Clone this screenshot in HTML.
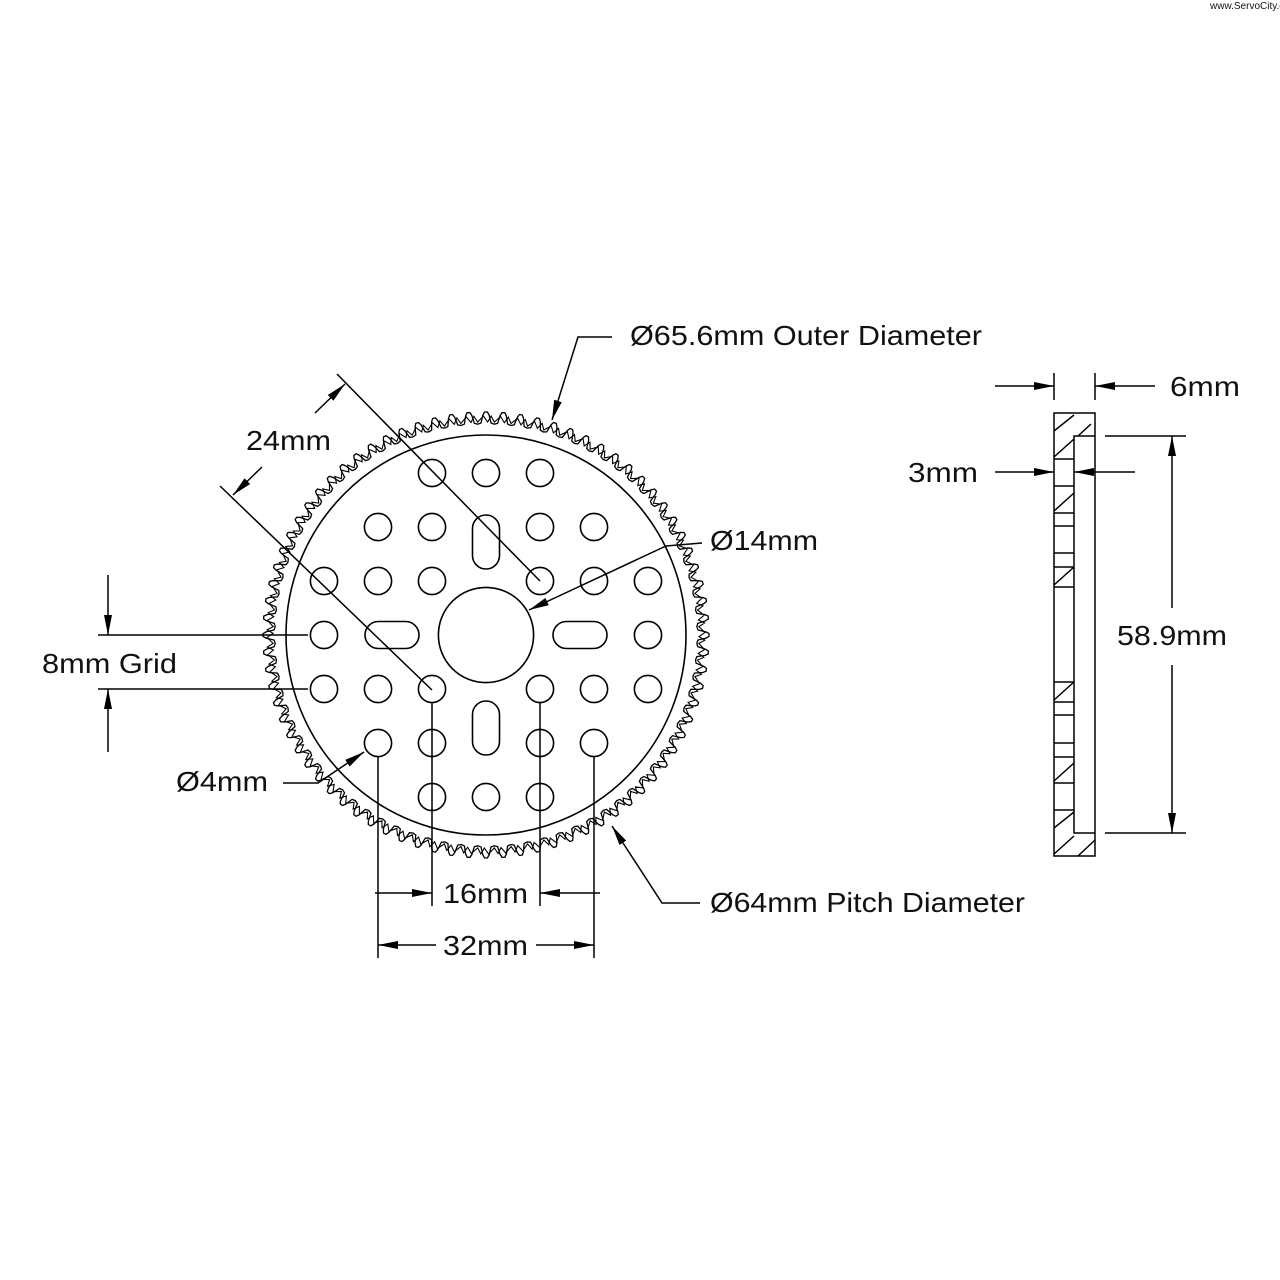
<!DOCTYPE html>
<html><head><meta charset="utf-8"><style>
body{margin:0;background:#fff}
svg{display:block}
text{font-family:"Liberation Sans",sans-serif;font-size:28px;fill:#111}
</style></head><body>
<svg id="s" width="1280" height="1280" viewBox="0 0 1280 1280" xmlns="http://www.w3.org/2000/svg">
<defs>
<marker id="a" viewBox="0 0 20 8" refX="20" refY="4" markerWidth="20" markerHeight="8" markerUnits="userSpaceOnUse" orient="auto"><path d="M0,0L20,4L0,8z" fill="#000"/></marker>
</defs>
<g fill="none" stroke="#000" stroke-width="1.6">
<circle cx="486" cy="635" r="200"/>
<circle cx="486" cy="635" r="47.6"/>
<path id="gear" stroke-width="1.3"/>
<path id="gear2" stroke-width="1.1"/>
<g id="holes"></g>
<rect x="472.5" y="515" width="27" height="54" rx="13.5"/>
<rect x="472.5" y="701" width="27" height="54" rx="13.5"/>
<rect x="365" y="621.5" width="54" height="27" rx="13.5"/>
<rect x="553" y="621.5" width="54" height="27" rx="13.5"/>
</g>
<g fill="none" stroke="#000" stroke-width="1.5">
<polyline points="612,337 578,337 552,420" marker-end="url(#a)"/>
<polyline points="702,543 666,546 529,610" marker-end="url(#a)"/>
<polyline points="283,783 318,783 364,752" marker-end="url(#a)"/>
<polyline points="700,903 662,903 612,826" marker-end="url(#a)"/>
<line x1="337" y1="374" x2="540" y2="581"/>
<line x1="220" y1="486" x2="432" y2="690"/>
<line x1="315" y1="413" x2="345" y2="384" marker-end="url(#a)"/>
<line x1="262" y1="467" x2="233" y2="495" marker-end="url(#a)"/>
<line x1="98" y1="635" x2="308" y2="635"/>
<line x1="98" y1="689" x2="308" y2="689"/>
<line x1="108" y1="575" x2="108" y2="635" marker-end="url(#a)"/>
<line x1="108" y1="752" x2="108" y2="689" marker-end="url(#a)"/>
<line x1="378" y1="757" x2="378" y2="958"/>
<line x1="594" y1="757" x2="594" y2="958"/>
<line x1="432" y1="703" x2="432" y2="906"/>
<line x1="540" y1="703" x2="540" y2="906"/>
<line x1="375" y1="893" x2="432" y2="893" marker-end="url(#a)"/>
<line x1="600" y1="893" x2="540" y2="893" marker-end="url(#a)"/>
<line x1="436" y1="945" x2="378" y2="945" marker-end="url(#a)"/>
<line x1="536" y1="945" x2="594" y2="945" marker-end="url(#a)"/>
<rect x="1054" y="413" width="41" height="443"/>
<polyline points="1095,436 1074,436 1074,833 1095,833"/>
<g id="hl"></g>
<line x1="1054" y1="373" x2="1054" y2="400"/>
<line x1="1095" y1="373" x2="1095" y2="400"/>
<line x1="995" y1="386" x2="1054" y2="386" marker-end="url(#a)"/>
<line x1="1155" y1="386" x2="1095" y2="386" marker-end="url(#a)"/>
<line x1="995" y1="472" x2="1054" y2="472" marker-end="url(#a)"/>
<line x1="1135" y1="472" x2="1074" y2="472" marker-end="url(#a)"/>
<line x1="1105" y1="436" x2="1186" y2="436"/>
<line x1="1105" y1="833" x2="1186" y2="833"/>
<line x1="1172" y1="608" x2="1172" y2="436" marker-end="url(#a)"/>
<line x1="1172" y1="665" x2="1172" y2="833" marker-end="url(#a)"/>
</g>
<text x="630" y="345" textLength="352" lengthAdjust="spacingAndGlyphs">Ø65.6mm Outer Diameter</text>
<text x="246" y="450" textLength="85" lengthAdjust="spacingAndGlyphs">24mm</text>
<text x="710" y="550" textLength="108" lengthAdjust="spacingAndGlyphs">Ø14mm</text>
<text x="42" y="673" textLength="135" lengthAdjust="spacingAndGlyphs">8mm Grid</text>
<text x="176" y="791" textLength="92" lengthAdjust="spacingAndGlyphs">Ø4mm</text>
<text x="443" y="903" textLength="85" lengthAdjust="spacingAndGlyphs">16mm</text>
<text x="443" y="955" textLength="85" lengthAdjust="spacingAndGlyphs">32mm</text>
<text x="710" y="912" textLength="315" lengthAdjust="spacingAndGlyphs">Ø64mm Pitch Diameter</text>
<text x="1170" y="396" textLength="70" lengthAdjust="spacingAndGlyphs">6mm</text>
<text x="908" y="482" textLength="70" lengthAdjust="spacingAndGlyphs">3mm</text>
<text x="1117" y="645" textLength="110" lengthAdjust="spacingAndGlyphs">58.9mm</text>
<text x="1210" y="9" style="font-size:10px">www.ServoCity.com</text>
</svg>
<script>
var cx=486,cy=635,N=80,d="",d2="";
function p(r,a){return (cx+r*Math.cos(a)).toFixed(2)+","+(cy+r*Math.sin(a)).toFixed(2);}
var st=2*Math.PI/N;
for(var i=0;i<N;i++){
 var a=i*st;
 var s=[[211,-0.5],[212,-0.3],[220,-0.18],[223,-0.08],[223,0.08],[220,0.18],[212,0.3],[211,0.5]];
 s.forEach(function(q,j){d+=(i==0&&j==0?"M":"L")+p(q[0],a+q[1]*st);});
 d2+=(i==0?"M":"L")+p(213,a-0.5*st)+"L"+p(219,a-0.15*st)+"L"+p(213,a+0.1*st)+"L"+p(219,a+0.3*st);
}
document.getElementById("gear").setAttribute("d",d+"Z");
document.getElementById("gear2").setAttribute("d",d2+"Z");
var H=[[473,[432,486,540]],[527,[378,432,540,594]],[581,[324,378,432,540,594,648]],[635,[324,648]],[689,[324,378,432,540,594,648]],[743,[378,432,540,594]],[797,[432,486,540]]];
var g=document.getElementById("holes"),ns="http://www.w3.org/2000/svg";
H.forEach(function(r){r[1].forEach(function(x){var c=document.createElementNS(ns,"circle");c.setAttribute("cx",x);c.setAttribute("cy",r[0]);c.setAttribute("r",13.6);g.appendChild(c);});});
var hl=document.getElementById("hl"),s="";
[459,486,513,526,553,567,587,682,702,715,743,757,783,810].forEach(function(y){s+="M1054,"+y+"L1074,"+y;});
[[413,459],[486,513],[567,587],[682,702],[757,783],[810,856]].forEach(function(r){s+="M1054,"+(r[1]-2)+"L1074,"+(r[1]-20);if(r[1]-r[0]>35)s+="M1054,"+(r[0]+18)+"L1074,"+(r[0]+2);});
s+="M1078,436L1091,424M1078,856L1095,840";
var pp=document.createElementNS(ns,"path");pp.setAttribute("d",s);hl.appendChild(pp);
</script>
</body></html>
